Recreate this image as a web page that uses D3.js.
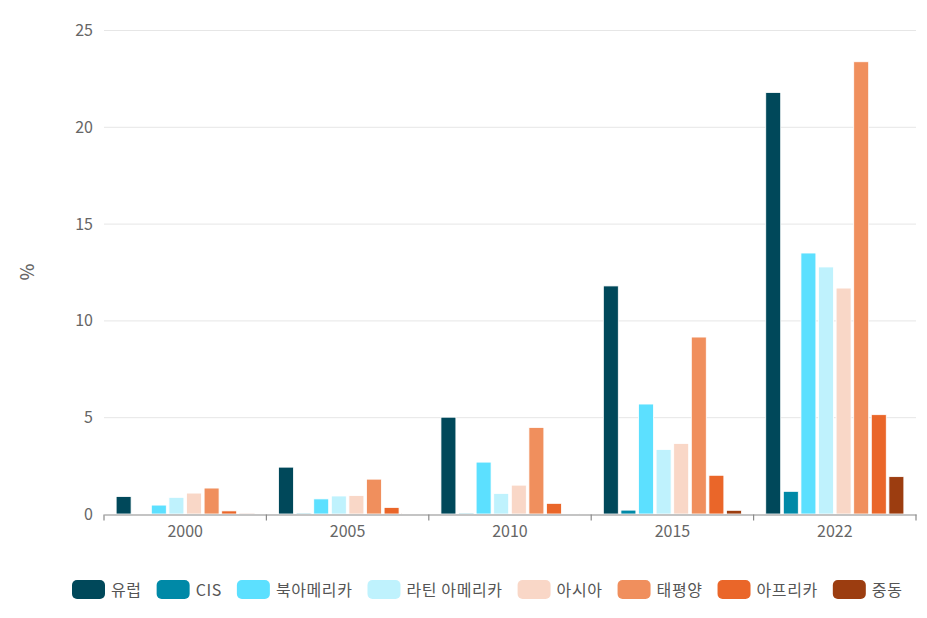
<!DOCTYPE html>
<html>
<head>
<meta charset="utf-8">
<script src="https://cdn.jsdelivr.net/npm/d3@7"></script>
<style>
  body { margin: 0; background: #fff; }
  text { font-family: "Noto Sans CJK KR", "Open Sans", sans-serif; }
</style>
</head>
<body>
<svg id="chart" width="927" height="618"></svg>
<script>
// data
var years = ["2000", "2005", "2010", "2015", "2022"];
var regions = ["유럽", "CIS", "북아메리카", "라틴 아메리카", "아시아", "태평양", "아프리카", "중동"];
var colors = ["#00485a", "#0089a7", "#5ce0ff", "#bff2fd", "#f9d7c7", "#f08f5d", "#ea6629", "#9c3d10"];
var yTicks = [0, 5, 10, 15, 20, 25];

var europe   = [0.9, 2.42, 5.0, 11.78, 21.77];
var cis      = [0, 0.05, 0.05, 0.2, 1.17];
var northAm  = [0.46, 0.78, 2.68, 5.68, 13.48];
var latinAm  = [0.86, 0.93, 1.06, 3.33, 12.76];
var asia     = [1.08, 0.95, 1.49, 3.64, 11.67];
var pacific  = [1.34, 1.8, 4.47, 9.14, 23.36];
var africa   = [0.16, 0.34, 0.55, 2.0, 5.13];
var mideast  = [0.02, 0.04, 0.04, 0.19, 1.93];
var series = [europe, cis, northAm, latinAm, asia, pacific, africa, mideast];

var svg = d3.select("#chart");
var plotL = 104, plotR = 916, plotT = 30, plotB = 514;

var x = d3.scaleBand().domain(years).range([plotL, plotR]).padding(0);
var xs = d3.scaleBand().domain(d3.range(regions.length))
           .range([0, x.bandwidth()]).paddingInner(0.15).paddingOuter(0.69);
var y = d3.scaleLinear().domain([0, 25]).range([plotB, plotT]);

// grid
svg.append("g").selectAll("line").data(yTicks.slice(1)).join("line")
   .attr("x1", plotL).attr("x2", plotR)
   .attr("y1", function(d){ return y(d) + 0.5; }).attr("y2", function(d){ return y(d) + 0.5; })
   .attr("stroke", "#e6e6e6").attr("stroke-width", 1);

// y labels
svg.append("g").selectAll("text").data(yTicks).join("text")
   .attr("x", 93).attr("y", function(d){ return y(d) + 6; })
   .attr("text-anchor", "end").attr("font-size", 16).attr("fill", "#666")
   .text(function(d){ return d; });

svg.append("text")
   .attr("transform", "translate(34," + ((plotT + plotB) / 2) + ") rotate(-90)")
   .attr("text-anchor", "middle").attr("font-size", 18).attr("font-weight", 500).attr("fill", "#666")
   .text("%");

// bars
var groups = svg.append("g").selectAll("g").data(years).join("g")
   .attr("transform", function(d){ return "translate(" + x(d) + ",0)"; });

groups.selectAll("rect").data(function(d, i){
      return series.map(function(s, j){ return {k: j, v: s[i]}; });
   }).join("rect")
   .attr("x", function(d){ return xs(d.k); })
   .attr("width", xs.bandwidth())
   .attr("y", function(d){ return y(d.v); })
   .attr("height", function(d){ return y(0) - y(d.v); })
   .attr("fill", function(d){ return colors[d.k]; })
   .attr("stroke", "#fff").attr("stroke-width", 0.8);

// x axis
var xAxis = d3.axisBottom(x).tickSize(0).tickPadding(11);
var gx = svg.append("g").attr("transform", "translate(0," + (plotB + 0.5) + ")").call(xAxis);
gx.select(".domain").attr("stroke", "#8a8a8a").attr("stroke-width", 1.2);
gx.selectAll("text").attr("font-size", 16).attr("fill", "#666")
  .style("font-family", "\"Noto Sans CJK KR\", \"Open Sans\", sans-serif");
var edges = years.map(function(d){ return x(d); }).concat([plotR]);
gx.selectAll("line.edge").data(edges).join("line").attr("class", "edge")
  .attr("x1", function(d){ return d; }).attr("x2", function(d){ return d; })
  .attr("y1", 0).attr("y2", 6).attr("stroke", "#8a8a8a").attr("stroke-width", 1.2);

// legend
var legend = svg.append("g").attr("transform", "translate(72,580)");
var lx = 0;
regions.forEach(function(r, i){
  var item = legend.append("g").attr("transform", "translate(" + lx + ",0)");
  item.append("rect").attr("width", 33).attr("height", 19).attr("rx", 5)
      .attr("fill", colors[i]);
  var t = item.append("text").attr("x", 39).attr("y", 16)
      .attr("font-size", 16).attr("letter-spacing", 0.6).attr("fill", "#555").text(r);
  lx += 39 + t.node().getComputedTextLength() + 15;
});
</script>
</body>
</html>
